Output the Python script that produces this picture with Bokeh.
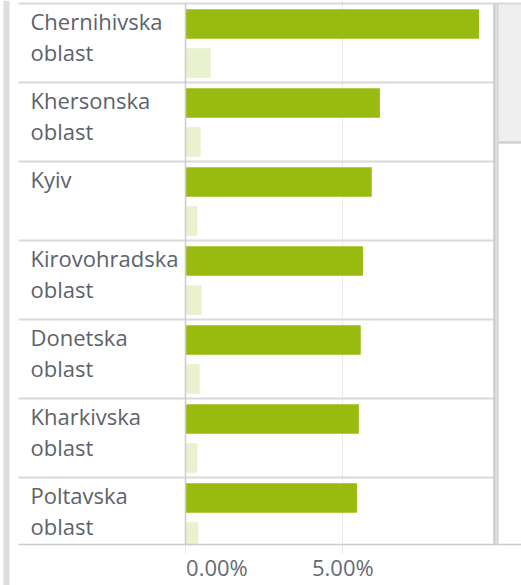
from bokeh.plotting import figure
from bokeh.models import Range1d, FixedTicker
from bokeh.embed import file_html
from bokeh.resources import INLINE
from bokeh.core.properties import value

# ---------------- data ----------------
region_line1 = ["Chernihivska", "Khersonska", "Kyiv", "Kirovohradska", "Donetska", "Kharkivska", "Poltavska"]
region_line2 = ["oblast", "oblast", "", "oblast", "oblast", "oblast", "oblast"]
series_main = [9.33, 6.18, 5.92, 5.64, 5.57, 5.51, 5.45]
series_light = [0.80, 0.48, 0.38, 0.51, 0.45, 0.38, 0.41]
tick_values = [0, 5]
tick_labels = ["0.00%", "5.00%"]

# ---------------- layout constants (pixels) ----------------
W, H = 521, 585
AXIS_PX = 545
ROW_PX = 79.0
TOP_PX = 3.0
ZERO_PX = 185.0
PX_PER_UNIT = 31.46

def px2x(px):
    return (px - ZERO_PX) / PX_PER_UNIT

def py2y(py):
    return (py - TOP_PX) / ROW_PX

x_start, x_end = px2x(0), px2x(W)
y_top, y_bottom = py2y(0), py2y(H)
n = len(region_line1)
rows = list(range(n))

p = figure(width=W, height=H,
           x_range=Range1d(x_start, x_end), y_range=Range1d(y_bottom, y_top),
           output_backend="svg", toolbar_location=None, y_axis_location=None,
           min_border_left=0, min_border_right=0, min_border_top=0, min_border_bottom=0)
p.outline_line_color = None
p.background_fill_color = "white"
p.border_fill_color = "white"

# scrollbar thumb
p.quad(left=[px2x(498)], right=[x_end], top=[py2y(TOP_PX)], bottom=[py2y(142)],
       fill_color="#efefef", line_color=None)

# row separators
sep_x0 = [px2x(18)] * n
sep_x1 = [x_end] + [px2x(494)] * (n - 1)
p.segment(x0=sep_x0, x1=sep_x1, y0=rows, y1=rows, line_color="#d9d9d9", line_width=2)

# bars
bar_h = 29.5 / ROW_PX
p.hbar(y=[r + 20.5 / ROW_PX for r in rows], left=0, right=series_main, height=bar_h,
       fill_color="#99bb10", line_color=None)
p.hbar(y=[r + 59.5 / ROW_PX for r in rows], left=0, right=series_light, height=bar_h,
       fill_color="#e9f1cf", line_color=None)

# category labels
lab_kw = dict(x_offset=-155, text_align="left", text_baseline="alphabetic",
              text_font=value("Open Sans"), text_font_size="22px", text_color="#5c636b")
p.text(x=[0] * n, y=[r + 17.5 / ROW_PX for r in rows], text=region_line1, **lab_kw)
p.text(x=[0] * n, y=[r + 48.8 / ROW_PX for r in rows], text=region_line2, **lab_kw)

# mask below the plot area (scrolled-out part)
p.quad(left=[x_start], right=[x_end], top=[py2y(AXIS_PX)], bottom=[y_bottom],
       fill_color="white", line_color=None)

# left grey band
p.quad(left=[px2x(3)], right=[px2x(9)], top=[y_top], bottom=[y_bottom],
       fill_color="#dddddd", line_color=None)

# bottom line
p.segment(x0=[px2x(18)], x1=[x_end], y0=[py2y(544)], y1=[py2y(544)], line_color="#cccccc", line_width=1.5)
# thumb bottom
p.segment(x0=[px2x(498)], x1=[x_end], y0=[py2y(142)], y1=[py2y(142)], line_color="#d0d0d0", line_width=2.5)
# zero line
p.segment(x0=[0], x1=[0], y0=[0], y1=[py2y(544)], line_color="#cccccc", line_width=1.5)
# right border + track border
p.segment(x0=[px2x(494), px2x(497)], x1=[px2x(494), px2x(497)], y0=[0, 0],
          y1=[py2y(544), py2y(544)], line_color=["#cccccc", "#d6d6d6"], line_width=2.5)

# grid + axis
p.ygrid.visible = False
p.xgrid.ticker = FixedTicker(ticks=[t for t in tick_values if t != 0])
p.xgrid.grid_line_color = "#ebebeb"
ax = p.xaxis[0]
ax.fixed_location = py2y(AXIS_PX)
ax.ticker = FixedTicker(ticks=tick_values)
overrides = {}
for t, lab in zip(tick_values, tick_labels):
    overrides[t] = ("\u00a0" * 11 + lab) if t == 0 else lab
ax.major_label_overrides = overrides
ax.axis_line_color = None
ax.major_tick_out = 8
ax.major_tick_in = 0
ax.major_tick_line_color = "#e6e6e6"
ax.minor_tick_line_color = None
ax.major_label_standoff = -2
ax.major_label_text_font = "Open Sans"
ax.major_label_text_font_size = "22px"
ax.major_label_text_color = "#666b70"

open("out.html", "w").write(file_html(p, INLINE, title="chart"))
